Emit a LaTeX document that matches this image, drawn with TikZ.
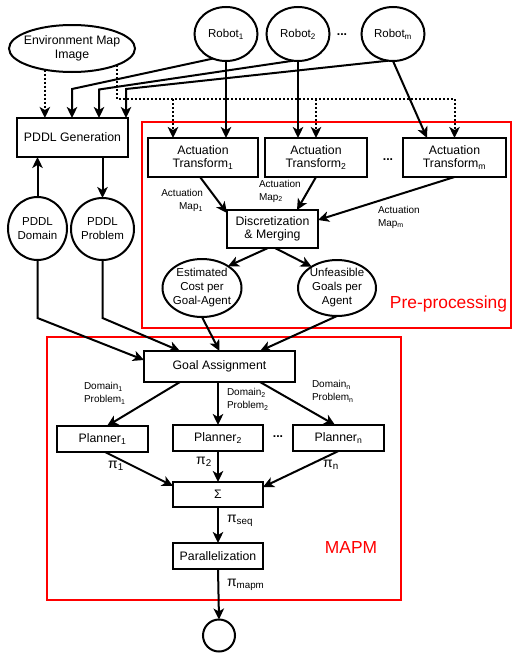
\documentclass[tikz,border=0pt]{standalone}
\usepackage{fontspec}
\setmainfont{Liberation Sans}
\usetikzlibrary{arrows.meta,shapes.geometric,calc}
\newcommand\fsA{\fontsize{12.3pt}{13.5pt}\selectfont}
\newcommand\fsB{\fontsize{11.5pt}{14pt}\selectfont}
\newcommand\fsC{\fontsize{10pt}{13pt}\selectfont}
\newcommand\fsD{\fontsize{17.4pt}{20pt}\selectfont}
\newcommand\fsP{\fontsize{14pt}{15pt}\selectfont}
\begin{document}
\begin{tikzpicture}[x=1pt,y=-1pt,
  every node/.style={inner sep=0pt, outer sep=0pt},
  box/.style={draw, line width=2pt, rectangle, align=center, font=\fsA},
  ell/.style={draw, line width=2pt, ellipse},
  arr/.style={line width=2pt, -{Stealth[length=11pt,width=10.5pt,inset=3pt]}},
  dotarr/.style={arr, dash pattern=on 2pt off 2pt},
  dotline/.style={line width=2pt, dash pattern=on 2pt off 2pt},
  small/.style={font=\fsC, align=left},
  plab/.style={font=\fsP},
  region/.style={draw=red, line width=2pt},
  dots/.style={font=\bfseries\fsA}]
\useasboundingbox (0,0) rectangle (514,653);

% regions
\draw[region] (142,122) rectangle (511,328);
\draw[region] (47,337) rectangle (401,600);
\node[font=\fsD, text=red] (pre) at (448.5,304) {Pre-processing};
\node[font=\fsD, text=red] (mapmlab) at (351,548) {MAPM};

% ellipses
\node[ell, minimum width=126pt, minimum height=47pt,
  label={[font=\fsA, align=center]center:Environment Map\\Image}] (Env) at (72,48.5) {};
\node[ell, minimum width=63pt, minimum height=54pt,
  label={[font=\fsB]center:Robot\textsubscript{1}}] (R1) at (226,34) {};
\node[ell, minimum width=63pt, minimum height=54pt,
  label={[font=\fsB]center:Robot\textsubscript{2}}] (R2) at (298,34) {};
\node[ell, minimum width=63pt, minimum height=54pt,
  label={[font=\fsB]center:Robot\textsubscript{m}}] (Rm) at (393,34) {};
\node[dots] (dots1) at (342,35) {...};

\node[ell, minimum width=59pt, minimum height=63pt,
  label={[font=\fsB, align=center]center:PDDL\\Domain}] (Dom) at (37.5,228.5) {};
\node[ell, minimum width=63pt, minimum height=62pt,
  label={[font=\fsB, align=center]center:PDDL\\Problem}] (Prob) at (102.5,229) {};
\node[ell, minimum width=79pt, minimum height=58pt,
  label={[font=\fsB, align=center]center:Estimated\\Cost per\\Goal-Agent}] (Est) at (202,288) {};
\node[ell, minimum width=78pt, minimum height=56pt,
  label={[font=\fsB, align=center]center:Unfeasible\\Goals per\\Agent}] (Unf) at (337,288) {};
\node[draw, circle, line width=2pt, minimum size=32pt] (End) at (219,635.5) {};

% boxes
\node[box, minimum width=111pt, minimum height=39pt] (PG) at (72.5,137.5) {PDDL Generation};
\node[box, minimum width=110pt, minimum height=39pt] (AT1) at (203,157.5) {Actuation\\Transform\textsubscript{1}};
\node[box, minimum width=102pt, minimum height=39pt] (AT2) at (316,157.5) {Actuation\\Transform\textsubscript{2}};
\node[box, minimum width=103pt, minimum height=39pt] (ATm) at (454.5,157.5) {Actuation\\Transform\textsubscript{m}};
\node[dots] (dots2) at (388,160) {...};
\node[box, minimum width=91pt, minimum height=38pt] (D) at (272.5,229) {Discretization\\\& Merging};
\node[box, minimum width=151pt, minimum height=31pt] (GA) at (219.5,366.5) {Goal Assignment};
\node[box, minimum width=91pt, minimum height=26pt] (P1) at (102.5,439) {Planner\textsubscript{1}};
\node[box, minimum width=90pt, minimum height=26pt] (P2) at (218,438) {Planner\textsubscript{2}};
\node[box, minimum width=91pt, minimum height=26pt] (Pn) at (338.5,438) {Planner\textsubscript{n}};
\node[dots] (dots3) at (278,437) {...};
\node[box, minimum width=90pt, minimum height=25pt] (S) at (218,494.5) {Σ};
\node[box, minimum width=90pt, minimum height=26pt] (Par) at (218,556) {Parallelization};

% small labels
\node[small, anchor=east, align=right] (lm1) at (203,200.5) {Actuation\\Map\textsubscript{1}};
\node[small, anchor=west] (lm2) at (259,191) {Actuation\\Map\textsubscript{2}};
\node[small, anchor=west] (lmm) at (378,217) {Actuation\\Map\textsubscript{m}};
\node[small, anchor=west] (ld1) at (84,393.5) {Domain\textsubscript{1}\\Problem\textsubscript{1}};
\node[small, anchor=west] (ld2) at (227,399.5) {Domain\textsubscript{2}\\Problem\textsubscript{2}};
\node[small, anchor=west] (ldn) at (312,391.5) {Domain\textsubscript{n}\\Problem\textsubscript{n}};
\node[plab] (lp1) at (116,466) {π\textsubscript{1}};
\node[plab] (lp2) at (204,462) {π\textsubscript{2}};
\node[plab] (lpn) at (331,465) {π\textsubscript{n}};
\node[plab, anchor=west] (lps) at (227,521) {π\textsubscript{seq}};
\node[plab, anchor=west] (lpm) at (227,585) {π\textsubscript{mapm}};

% helper coordinates
\coordinate (c1) at (72,89);
\coordinate (c2) at (99,89.5);
\coordinate (c3) at (126,89);
\coordinate (dj) at (0,99);
\coordinate (b1) at (173,99);
\coordinate (k1) at (37.5,318);
\coordinate (k2) at (102.5,318);

% environment dotted
\draw[dotarr] (Env.218) -- (Env.218 |- PG.north);
\draw[dotline] (Env.340) -- (Env.340 |- dj) -- (ATm.north |- dj);
\draw[dotarr] (ATm.north |- dj) -- (ATm.north);
\draw[dotarr] (b1) -- (b1 |- AT1.north);
\draw[dotarr] (AT2.north |- dj) -- (AT2.north);

% robots to PDDL generation
\draw[arr] (R1.242) -- (c1) -- (c1 |- PG.north);
\draw[arr] (R2.260) -- (c2) -- (c2 |- PG.north);
\draw[arr] (Rm.260) -- (c3) -- (c3 |- PG.north);

% robots to actuation transforms
\draw[arr] (R1.south) -- (R1.south |- AT1.north);
\draw[arr] (R2.south) -- (R2.south |- AT2.north);
\draw[arr] (Rm.south) -- ($(ATm.north west)+(24,0)$);

% transforms to discretization
\draw[arr] ($(AT1.south)+(-3,0)$) -- ($(D.north west)+(0,3)$);
\draw[arr] (AT2.south) -- ($(D.north)+(24.5,0)$);
\draw[arr] (ATm.south) -- ($(D.east)+(0,-9)$);
\draw[arr] ($(D.south)+(-4.5,0)$) -- (Est.40);
\draw[arr] ($(D.south)+(2.5,0)$) -- (Unf.140);

% PDDL
\draw[arr] (Dom.north) -- (Dom.north |- PG.south);
\draw[arr] (PG.south -| Prob.north) -- (Prob.north);
\draw[arr] (Dom.south) -- (k1) -- ($(GA.west)+(0,-6.5)$);
\draw[arr] (Prob.south) -- (k2) -- ($(GA.north west)+(36,0)$);
\draw[arr] (Est.south) -- (GA.north);
\draw[arr] (Unf.south) -- ($(GA.north)+(40.5,0)$);

% MAPM
\draw[arr] ($(GA.south west)+(36,0)$) -- ($(P1.north)+(4.5,0)$);
\draw[arr] (GA.south -| P2.north) -- (P2.north);
\draw[arr] ($(GA.south)+(40.5,0)$) -- ($(Pn.north)+(-3.5,0)$);
\draw[arr] ($(P1.south)+(2.5,0)$) -- ($(S.north west)+(0,4)$);
\draw[arr] (P2.south) -- (S.north);
\draw[arr] (Pn.south) -- ($(S.north east)+(0,5)$);
\draw[arr] (S.south) -- (Par.north);
\draw[arr] (Par.south) -- (End.north);
\end{tikzpicture}
\end{document}
